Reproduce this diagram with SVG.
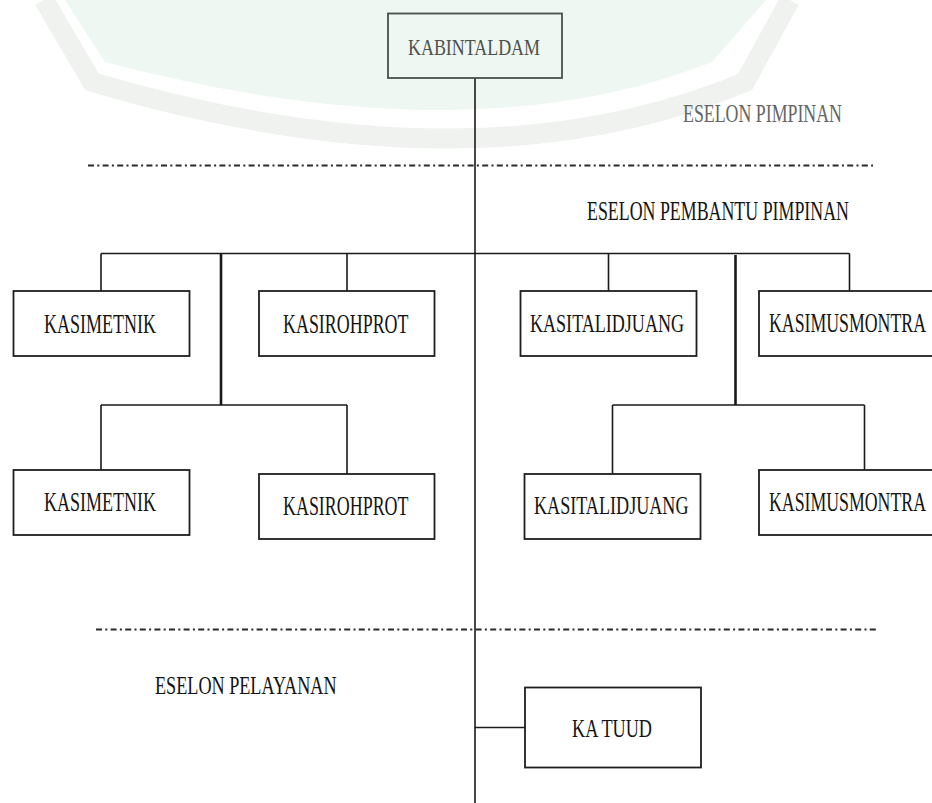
<svg xmlns="http://www.w3.org/2000/svg" width="932" height="803" viewBox="0 0 932 803">
<style>
.box{fill:none;stroke:#1e1e1e;stroke-width:1.8}
text{font-family:'Liberation Serif','Times New Roman','DejaVu Serif',serif;font-size:18px;fill:#141414}
.ln{fill:none;stroke:#1a1a1a;stroke-width:1.6}
.thick{fill:none;stroke:#1a1a1a;stroke-width:2.6}
.dash{fill:none;stroke:#2a2a2a;stroke-width:1.8;stroke-dasharray:6 3.3 2 3.3}
</style>
<rect width="932" height="803" fill="#ffffff"/>
<g id="watermark">
<path d="M65 0 L105 62 Q470 158 712 62 L766 0 Z" fill="#eef7f1"/>
<path d="M44 0 L92 82 Q475 195 745 82 L790 0" fill="none" stroke="#eff2ef" stroke-width="20"/>
</g>
<g id="connectors">
<path class="ln" d="M475 78 V803" stroke="#333"/>
<path class="ln" d="M101 253.5 H849.5"/>
<path class="ln" d="M101 253.5 V291 M347 253.5 V291 M608.5 253.5 V291 M849.5 253.5 V291"/>
<path class="thick" d="M221 253.5 V405 M735.5 255 V405"/>
<path class="ln" d="M101 405 H347 M101 405 V470 M347 405 V474"/>
<path class="ln" d="M612.5 405 H864.5 M612.5 405 V474 M864.5 405 V470"/>
<path class="ln" d="M475 727.5 H525"/>
<path class="dash" d="M88 165.5 H873"/>
<path class="dash" d="M96 629.5 H878"/>
</g>
<g id="kabintaldam">
<rect x="388" y="13.5" width="174" height="64.5" fill="none" stroke="#4a4f4a" stroke-width="1.8"/>
<text transform="translate(408 55) scale(1 1.28)" style="fill:#4d514d" textLength="132" lengthAdjust="spacingAndGlyphs">KABINTALDAM</text>
</g>
<g id="eselon-pimpinan">
<text transform="translate(683 122) scale(1 1.35)" style="fill:#666666" textLength="159" lengthAdjust="spacingAndGlyphs">ESELON PIMPINAN</text>
</g>
<g id="eselon-pembantu">
<text transform="translate(587 220) scale(1 1.55)" textLength="262" lengthAdjust="spacingAndGlyphs">ESELON PEMBANTU PIMPINAN</text>
</g>
<g id="kasimetnik-1">
<rect class="box" x="13.5" y="291" width="176" height="65"/>
<text transform="translate(44 333) scale(1 1.5)" textLength="112" lengthAdjust="spacingAndGlyphs">KASIMETNIK</text>
</g>
<g id="kasirohprot-1">
<rect class="box" x="259" y="291" width="175.5" height="65"/>
<text transform="translate(283 333) scale(1 1.5)" textLength="125.5" lengthAdjust="spacingAndGlyphs">KASIROHPROT</text>
</g>
<g id="kasitalidjuang-1">
<rect class="box" x="520.5" y="291" width="176" height="65"/>
<text transform="translate(530 332) scale(1 1.5)" style="font-size:17.4px" textLength="154" lengthAdjust="spacingAndGlyphs">KASITALIDJUANG</text>
</g>
<g id="kasimusmontra-1">
<rect class="box" x="759" y="291" width="200" height="65"/>
<text transform="translate(769 332) scale(1 1.5)" style="font-size:17.7px" textLength="157" lengthAdjust="spacingAndGlyphs">KASIMUSMONTRA</text>
</g>
<g id="kasimetnik-2">
<rect class="box" x="13.5" y="470" width="176" height="65"/>
<text transform="translate(44 511) scale(1 1.5)" textLength="112" lengthAdjust="spacingAndGlyphs">KASIMETNIK</text>
</g>
<g id="kasirohprot-2">
<rect class="box" x="259" y="474" width="175.5" height="65"/>
<text transform="translate(283 515) scale(1 1.5)" textLength="125.5" lengthAdjust="spacingAndGlyphs">KASIROHPROT</text>
</g>
<g id="kasitalidjuang-2">
<rect class="box" x="524.5" y="474" width="176" height="65"/>
<text transform="translate(534 514) scale(1 1.5)" style="font-size:17.4px" textLength="154.5" lengthAdjust="spacingAndGlyphs">KASITALIDJUANG</text>
</g>
<g id="kasimusmontra-2">
<rect class="box" x="759" y="470" width="200" height="65"/>
<text transform="translate(769 511) scale(1 1.5)" style="font-size:17.7px" textLength="157" lengthAdjust="spacingAndGlyphs">KASIMUSMONTRA</text>
</g>
<g id="eselon-pelayanan">
<text transform="translate(155 694) scale(1 1.4)" style="font-size:17.6px" textLength="181.5" lengthAdjust="spacingAndGlyphs">ESELON PELAYANAN</text>
</g>
<g id="katuud">
<rect class="box" x="525" y="687.5" width="176" height="80"/>
<text transform="translate(572 737) scale(1 1.42)" textLength="80" lengthAdjust="spacingAndGlyphs">KA TUUD</text>
</g>
</svg>
